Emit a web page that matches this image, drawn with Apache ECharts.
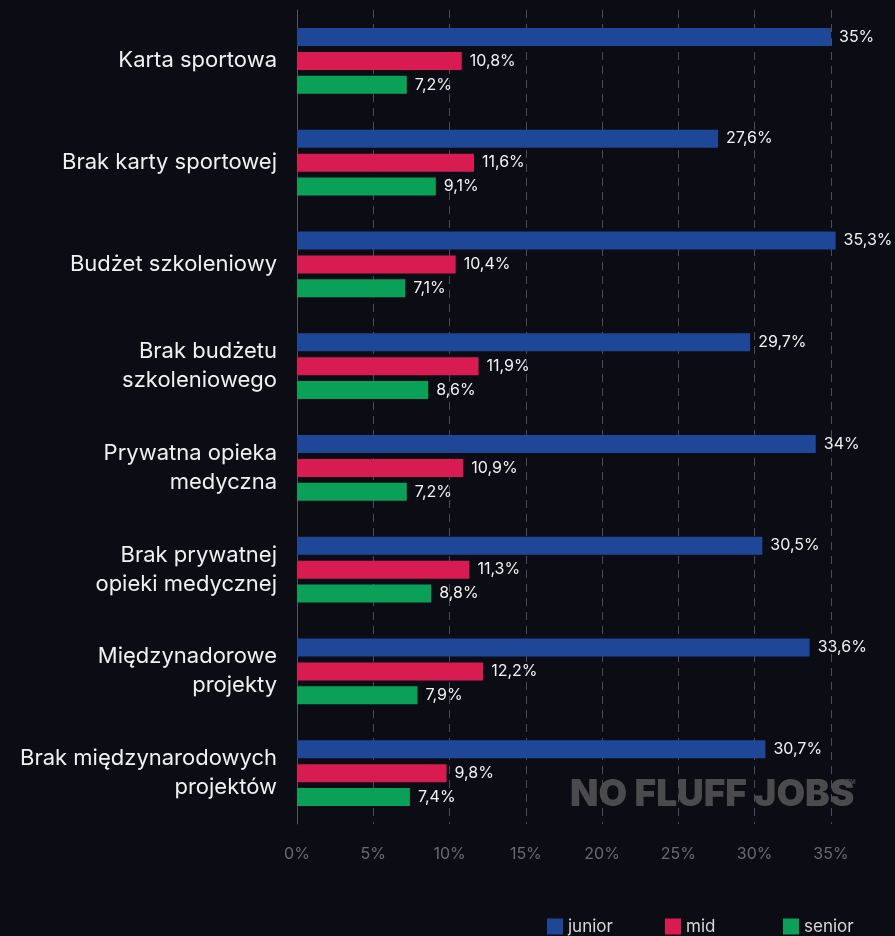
<!DOCTYPE html>
<html>
<head>
<meta charset="utf-8">
<script src="https://cdn.jsdelivr.net/npm/echarts@6/dist/echarts.min.js"></script>
<style>
  html, body { margin: 0; padding: 0; background: #0c0d14; }
  #chart { width: 895px; height: 936px; }
</style>
</head>
<body>
<div id="chart"></div>
<script>
var categories = [
  'Karta sportowa',
  'Brak karty sportowej',
  'Budżet szkoleniowy',
  'Brak budżetu\nszkoleniowego',
  'Prywatna opieka\nmedyczna',
  'Brak prywatnej\nopieki medycznej',
  'Międzynadorowe\nprojekty',
  'Brak międzynarodowych\nprojektów'
];
var junior = [35, 27.6, 35.3, 29.7, 34, 30.5, 33.6, 30.7];
var mid = [10.8, 11.6, 10.4, 11.9, 10.9, 11.3, 12.2, 9.8];
var senior = [7.2, 9.1, 7.1, 8.6, 7.2, 8.8, 7.9, 7.4];
var seriesNames = ['junior', 'mid', 'senior'];
var colors = ['#1e4797', '#d81c52', '#0ba058'];

var font = 'Inter, "Noto Sans", sans-serif';

function pct(v) {
  return String(v).replace('.', ',') + '%';
}

function makeSeries(name, data, color) {
  return {
    name: name,
    type: 'bar',
    data: data,
    barWidth: 18,
    barGap: '33%',
    clip: false,
    itemStyle: { color: color },
    label: {
      show: true,
      position: 'right',
      distance: 8,
      color: '#f2f2f2',
      fontFamily: font,
      fontSize: 16,
      formatter: function (p) { return pct(p.value); }
    }
  };
}

// one legend per item so each sits at its own fixed x
var legendX = [547, 665, 783];
var legends = seriesNames.map(function (n, i) {
  return {
    left: legendX[i],
    top: 918,
    padding: 0,
    itemWidth: 16,
    itemHeight: 16,
    itemGap: 6,
    icon: 'rect',
    data: [n],
    textStyle: { color: '#d8d8d8', fontFamily: font, fontSize: 17 }
  };
});

var myChart = echarts.init(document.getElementById('chart'));
var option = {
  backgroundColor: '#0c0d14',
  animation: false,
  grid: { left: 297, top: 10, width: 534, height: 814, containLabel: false },
  legend: legends,
  xAxis: {
    type: 'value',
    min: 0,
    max: 35,
    interval: 5,
    axisLine: { show: false },
    axisTick: { show: false },
    axisLabel: {
      color: '#6a6a6e',
      fontFamily: font,
      fontSize: 16,
      margin: 22,
      formatter: '{value}%'
    },
    splitLine: {
      show: true,
      lineStyle: { color: '#4a4c58', type: [8, 6], width: 1 }
    }
  },
  yAxis: {
    type: 'category',
    inverse: true,
    data: categories,
    axisLine: { show: true, lineStyle: { color: '#55565c', width: 1 } },
    axisTick: { show: false },
    axisLabel: {
      color: '#f0f0f0',
      fontFamily: font,
      fontSize: 22,
      lineHeight: 29,
      margin: 20,
      align: 'right'
    }
  },
  graphic: [
    {
      type: 'text',
      left: 570,
      top: 776,
      style: {
        text: 'NO FLUFF JOBS',
        fill: '#4b4b4e',
        font: '900 37px ' + font
      }
    },
    {
      type: 'text',
      left: 846,
      top: 779,
      style: { text: 'TM', fill: '#4b4b4e', font: '700 6px ' + font }
    }
  ],
  series: [
    makeSeries(seriesNames[0], junior, colors[0]),
    makeSeries(seriesNames[1], mid, colors[1]),
    makeSeries(seriesNames[2], senior, colors[2])
  ]
};
myChart.setOption(option);
</script>
</body>
</html>
